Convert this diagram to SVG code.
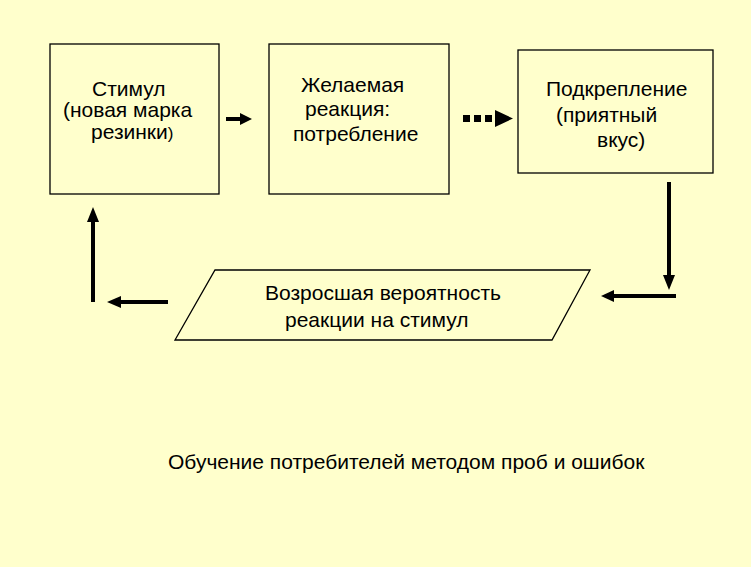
<svg xmlns="http://www.w3.org/2000/svg" width="751" height="567" viewBox="0 0 751 567">
<style>
.bx{fill:none;stroke:#000;stroke-width:1.3}
.t{font-family:"Liberation Sans",Arial,sans-serif;font-size:21px;fill:#000}
.ln{stroke:#000;stroke-width:4;fill:none}
.hd{fill:#000}
</style>
<rect width="751" height="567" fill="#FFFFCC"/>
<g id="stimul">
<rect class="bx" x="50" y="44" width="169" height="150"/>
<text class="t" x="92" y="96">Стимул</text>
<text class="t" x="63" y="117">(новая марка</text>
<text class="t" x="91" y="139">резинки<tspan font-size="17">)</tspan></text>
</g>
<g id="reaction">
<rect class="bx" x="269" y="44" width="180" height="150"/>
<text class="t" x="301" y="92">Желаемая</text>
<text class="t" x="305" y="116">реакция:</text>
<text class="t" x="293" y="141">потребление</text>
</g>
<g id="reinforcement">
<rect class="bx" x="518" y="50" width="195" height="123"/>
<text class="t" x="546" y="96">Подкрепление</text>
<text class="t" x="556" y="122">(приятный</text>
<text class="t" x="597" y="147">вкус)</text>
</g>
<g id="probability">
<polygon class="bx" points="215,270 590,270 552,340 175,340"/>
<text class="t" x="265" y="300">Возросшая вероятность</text>
<text class="t" x="285" y="327">реакции на стимул</text>
</g>
<g id="connectors">
<line class="ln" x1="226" y1="119" x2="242" y2="119"/>
<polygon class="hd" points="240,113 252,119 240,125"/>
<rect class="hd" x="463" y="115" width="7" height="7"/>
<rect class="hd" x="474" y="115" width="7" height="7"/>
<rect class="hd" x="485" y="115" width="7" height="7"/>
<polygon class="hd" points="495,110 513,118.5 495,127"/>
<line class="ln" x1="669" y1="182" x2="669" y2="276"/>
<polygon class="hd" points="663,275 669,290 675,275"/>
<line class="ln" x1="676" y1="296" x2="613" y2="296"/>
<polygon class="hd" points="614,290 601,296 614,302"/>
<line class="ln" x1="168" y1="302" x2="120" y2="302"/>
<polygon class="hd" points="121,296 107,302 121,308"/>
<line class="ln" x1="93" y1="302" x2="93" y2="220"/>
<polygon class="hd" points="87,222 93,207 99,222"/>
</g>
<text class="t" x="168" y="469">Обучение потребителей методом проб и ошибок</text>
</svg>
